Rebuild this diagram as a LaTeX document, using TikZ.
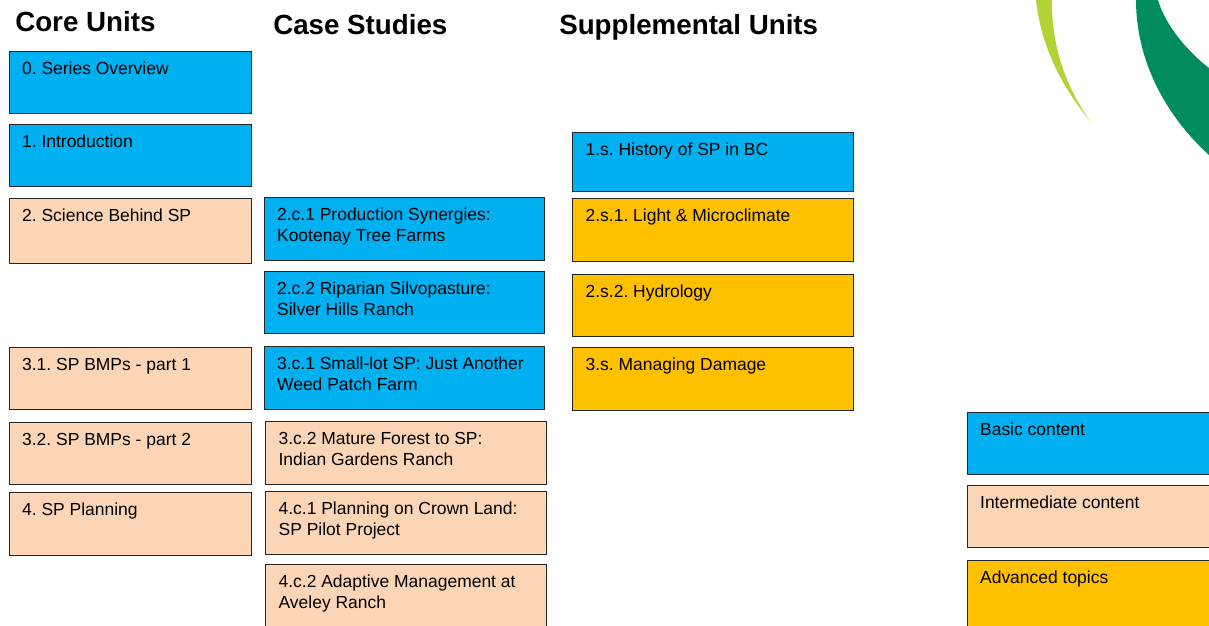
\documentclass[tikz,border=0pt]{standalone}
\usepackage{fontspec}
\setmainfont{Liberation Sans}
\frenchspacing
\definecolor{cblue}{HTML}{00B0F0}
\definecolor{cpeach}{HTML}{FBD5B5}
\definecolor{cgold}{HTML}{FFC000}
\definecolor{lgreen}{HTML}{B2D235}
\definecolor{dgreen}{HTML}{008C5F}
\newcommand{\unitbox}[7]{% name,x1,y1,x2,y2,color,text
  \pgfmathsetlengthmacro{\bw}{(#4-#2)*0.75pt-0.4pt}%
  \pgfmathsetlengthmacro{\bh}{(#5-#3)*0.75pt-0.3pt}%
  \node[unit, fill=#6, minimum width=\bw, minimum height=\bh] (#1) at (#2,#3)
    {\parbox[t][\dimexpr\bh-13pt\relax][t]{\dimexpr\bw-19.7pt\relax}{\strut #7}};}
\tikzset{
  unit/.style={draw=black!85, line width=0.7pt, anchor=north west, inner xsep=9.0pt, inner ysep=5.7pt, font=\fontsize{13.1pt}{15.8pt}\selectfont, text=black, outer sep=0pt},
  heading/.style={anchor=base west, inner sep=0pt, font=\fontsize{20.8pt}{24pt}\selectfont\bfseries}
}
\begin{document}
\begin{tikzpicture}[x=0.75pt,y=-0.75pt]
\useasboundingbox (0,0) rectangle (1209,625);
\clip (0,0) rectangle (1209,625);
\fill[white] (0,0) rectangle (1209,625);
% logo arcs
\fill[lgreen] (1036,0) .. controls (1041,45) and (1060,85) .. (1091,122) .. controls (1066,88) and (1051,45) .. (1052,0) -- cycle;
\fill[dgreen] (1136,0) .. controls (1136,60) and (1165,115) .. (1209,155) -- (1209,68) .. controls (1188,52) and (1165,25) .. (1158,0) -- cycle;
% headings
\node[heading] (h1) at (15,31) {Core Units};
\node[heading] (h2) at (273,34) {Case Studies};
\node[heading] (h3) at (559,34) {Supplemental Units};
% core
\unitbox{a0}{9}{51}{252}{114}{cblue}{0. Series Overview}
\unitbox{a1}{9}{124}{252}{187}{cblue}{1. Introduction}
\unitbox{a2}{9}{198}{252}{264}{cpeach}{2. Science Behind SP}
\unitbox{a3}{9}{347}{252}{410}{cpeach}{3.1. SP BMPs - part 1}
\unitbox{a4}{9}{422}{252}{485}{cpeach}{3.2. SP BMPs - part 2}
\unitbox{a5}{9}{492}{252}{556}{cpeach}{4. SP Planning}
% case
\unitbox{b0}{264}{197}{545}{261}{cblue}{2.c.1 Production Synergies:\\Kootenay Tree Farms}
\unitbox{b1}{264}{271}{545}{334}{cblue}{2.c.2 Riparian Silvopasture:\\Silver Hills Ranch}
\unitbox{b2}{264}{346}{545}{410}{cblue}{3.c.1 Small-lot SP: Just Another\\Weed Patch Farm}
\unitbox{b3}{265.5}{421}{546.5}{485}{cpeach}{3.c.2 Mature Forest to SP:\\Indian Gardens Ranch}
\unitbox{b4}{265.5}{491}{546.5}{555}{cpeach}{4.c.1 Planning on Crown Land:\\SP Pilot Project}
\unitbox{b5}{265.5}{564}{546.5}{628}{cpeach}{4.c.2 Adaptive Management at\\Aveley Ranch}
% supplemental
\unitbox{c0}{572.5}{132}{854}{191.5}{cblue}{1.s. History of SP in BC}
\unitbox{c1}{572.5}{198}{854}{262}{cgold}{2.s.1. Light \& Microclimate}
\unitbox{c2}{572.5}{274}{854}{337}{cgold}{2.s.2. Hydrology}
\unitbox{c3}{572.5}{347}{854}{411}{cgold}{3.s. Managing Damage}
% legend
\unitbox{d0}{967}{412}{1212}{475}{cblue}{Basic content}
\unitbox{d1}{967}{485}{1212}{548}{cpeach}{Intermediate content}
\unitbox{d2}{967}{560}{1212}{630}{cgold}{Advanced topics}
\end{tikzpicture}
\end{document}
